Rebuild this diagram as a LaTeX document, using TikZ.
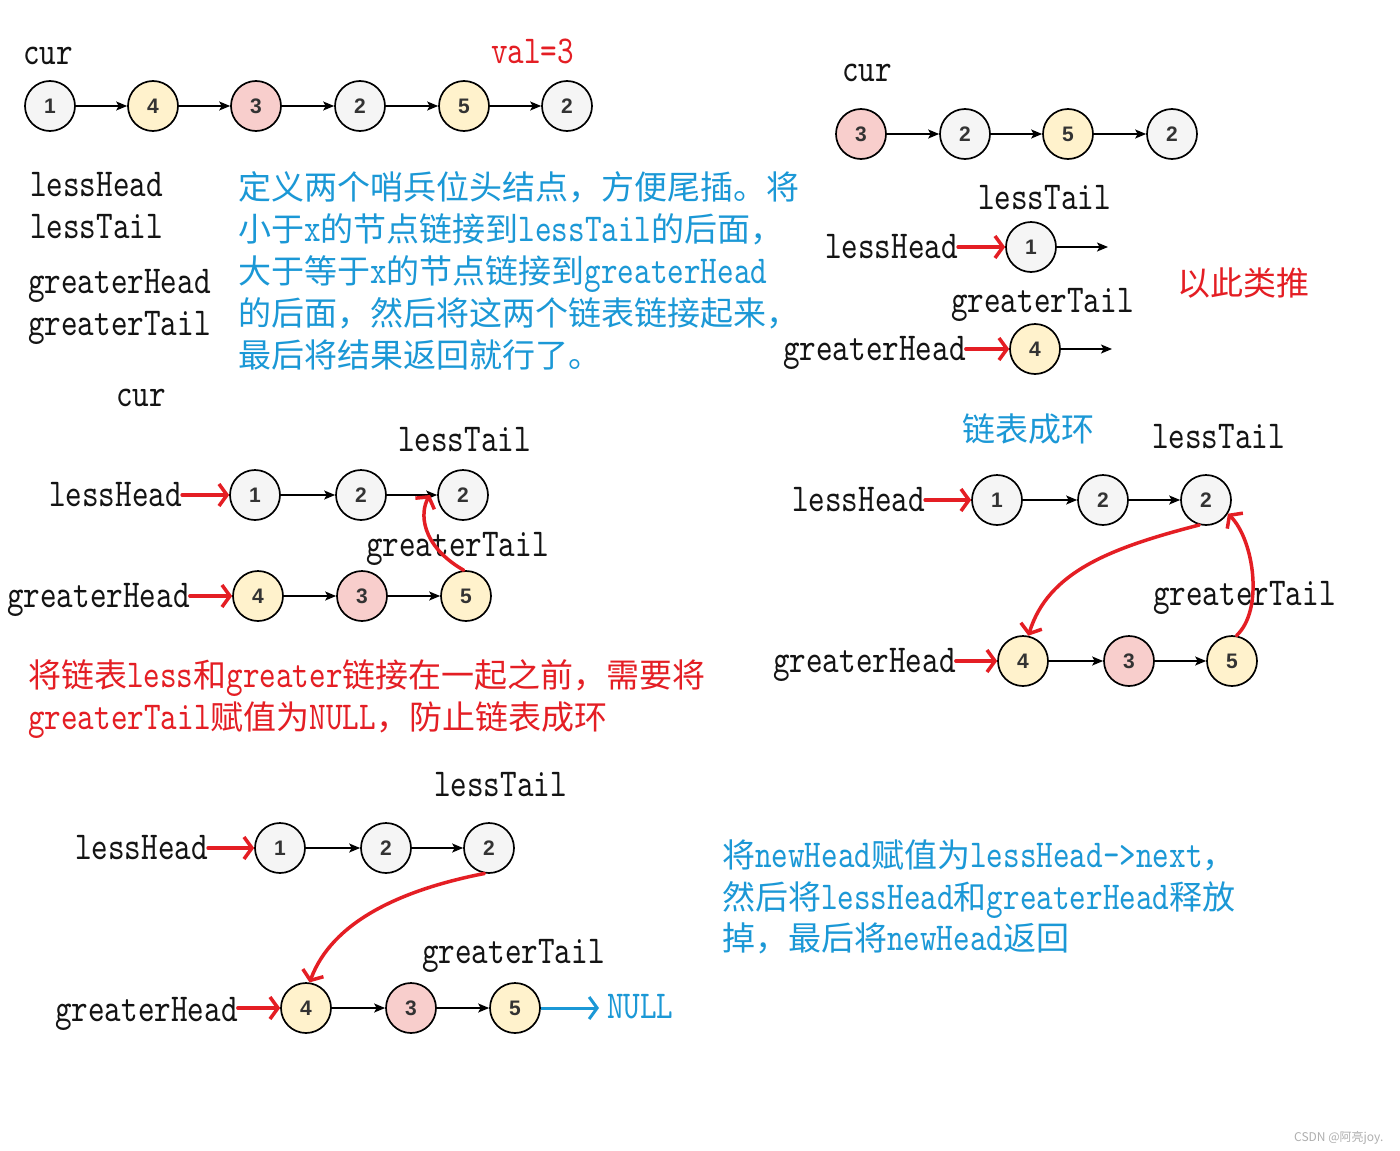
\documentclass[tikz,border=0pt]{standalone}
\usepackage{fontspec}
\usetikzlibrary{arrows.meta}
\newfontfamily\cjk{Noto Sans CJK SC}
\newfontfamily\mono{lmmono10-regular.otf}[FakeStretch=0.8]
\newfontfamily\numfont{Liberation Sans}
\definecolor{ngray}{RGB}{245,245,245}
\definecolor{nyellow}{RGB}{255,242,204}
\definecolor{npink}{RGB}{248,206,204}
\definecolor{myred}{RGB}{228,30,36}
\definecolor{myblue}{RGB}{27,152,214}
\definecolor{numc}{RGB}{51,51,51}
\definecolor{txt}{RGB}{20,20,20}
\newcommand\mt[1]{{\mono\fontsize{39.5}{42}\selectfont #1}}
\tikzset{
  nd/.style={circle, draw=black, line width=1.7pt, minimum size=50pt, inner sep=0pt,
    text=numc, font=\numfont\bfseries\fontsize{21}{21}\selectfont},
  gn/.style={nd, fill=ngray},
  yn/.style={nd, fill=nyellow},
  pn/.style={nd, fill=npink},
  lb/.style={anchor=base west, inner sep=0pt, text=txt, font=\mono\fontsize{39.5}{42}\selectfont},
  cj/.style={anchor=base west, inner sep=0pt, font=\cjk\fontsize{33}{42}\selectfont},
  nx/.style={line width=1.5pt, -{Stealth[length=11pt,width=9pt,inset=2.5pt]}},
  rx/.style={draw=myred, line width=3.5pt, line cap=round, -{Straight Barb[length=8pt,width=22pt]}},
  bx/.style={draw=myblue, line width=3pt, -{Straight Barb[length=8pt,width=22pt]}},
}
\begin{document}
\begin{tikzpicture}[x=1pt,y=-1pt]
\useasboundingbox (0,0) rectangle (1400,1151);
\fill[white] (0,0) rectangle (1400,1151);

% ---------- Panel 1 ----------
\node[lb] (cur1) at (23,64) {cur};
\node[lb, text=myred] (val) at (491,63) {val=3};
\node[gn] (a1) at (50,106) {1};
\node[yn] (a2) at (153,106) {4};
\node[pn] (a3) at (256,106) {3};
\node[gn] (a4) at (360,106) {2};
\node[yn] (a5) at (464,106) {5};
\node[gn] (a6) at (567,106) {2};
\draw[nx] (a1) -- (a2);
\draw[nx] (a2) -- (a3);
\draw[nx] (a3) -- (a4);
\draw[nx] (a4) -- (a5);
\draw[nx] (a5) -- (a6);
\node[lb] (t1) at (30,196) {lessHead};
\node[lb] (t2) at (30,238) {lessTail};
\node[lb] (t3) at (28,293) {greaterHead};
\node[lb] (t4) at (28,335) {greaterTail};
\node[cj, text=myblue] (p1) at (238,199) {定义两个哨兵位头结点，方便尾插。将};
\node[cj, text=myblue] (p2) at (238,241) {小于\mt{x}的节点链接到\mt{lessTail}的后面，};
\node[cj, text=myblue] (p3) at (238,283) {大于等于\mt{x}的节点链接到\mt{greaterHead}};
\node[cj, text=myblue] (p4) at (238,325) {的后面，然后将这两个链表链接起来，};
\node[cj, text=myblue] (p5) at (238,367) {最后将结果返回就行了。};

% ---------- Panel 2 ----------
\node[lb] (cur2) at (842,81) {cur};
\node[pn] (b1) at (861,134) {3};
\node[gn] (b2) at (965,134) {2};
\node[yn] (b3) at (1068,134) {5};
\node[gn] (b4) at (1172,134) {2};
\draw[nx] (b1) -- (b2);
\draw[nx] (b2) -- (b3);
\draw[nx] (b3) -- (b4);
\node[lb] (lt2) at (978,209) {lessTail};
\node[lb] (lh2) at (825,258) {lessHead};
\node[gn] (b5) at (1031,247) {1};
\coordinate (bx1) at (1108,247);
\draw[rx] (lh2.east |- b5.west) -- (b5.west);
\draw[nx] (b5) -- (bx1);
\node[lb] (gt2) at (951,312) {greaterTail};
\node[lb] (gh2) at (783,360) {greaterHead};
\node[yn] (b6) at (1035,349) {4};
\coordinate (bx2) at (1112,349);
\draw[rx] (gh2.east |- b6.west) -- (b6.west);
\draw[nx] (b6) -- (bx2);
\node[cj, text=myred] (etc) at (1177,295) {以此类推};

% ---------- Panel 3 ----------
\node[lb] (cur3) at (116,406) {cur};
\node[lb] (lt3) at (398,451) {lessTail};
\node[lb] (lh3) at (49,506) {lessHead};
\node[gn] (c1) at (255,495) {1};
\node[gn] (c2) at (361,495) {2};
\node[gn] (c3) at (463,495) {2};
\draw[rx] (lh3.east |- c1.west) -- (c1.west);
\draw[nx] (c1) -- (c2);
\draw[nx] (c2) -- (c3);
\node[lb] (gt3) at (366,556) {greaterTail};
\node[lb] (gh3) at (7,607) {greaterHead};
\node[yn] (c4) at (258,596) {4};
\node[pn] (c5) at (362,596) {3};
\node[yn] (c6) at (466,596) {5};
\draw[rx] (gh3.east |- c4.west) -- (c4.west);
\draw[nx] (c4) -- (c5);
\draw[nx] (c5) -- (c6);
\coordinate (c3in) at (430,495);
\draw[rx] (c6.95) .. controls (420,545) and (420,512) .. (c3in);
\node[cj, text=myred] (r1) at (28,687) {将链表\mt{less}和\mt{greater}链接在一起之前，需要将};
\node[cj, text=myred] (r2) at (28,729) {\mt{greaterTail}赋值为\mt{NULL}，防止链表成环};

% ---------- Panel 4 ----------
\node[cj, text=myblue] (ring) at (962,441) {链表成环};
\node[lb] (lt4) at (1152,448) {lessTail};
\node[lb] (lh4) at (792,511) {lessHead};
\node[gn] (d1) at (997,500) {1};
\node[gn] (d2) at (1103,500) {2};
\node[gn] (d3) at (1206,500) {2};
\draw[rx] (lh4.east |- d1.west) -- (d1.west);
\draw[nx] (d1) -- (d2);
\draw[nx] (d2) -- (d3);
\node[lb] (gt4) at (1153,605) {greaterTail};
\node[lb] (gh4) at (773,672) {greaterHead};
\node[yn] (d4) at (1023,661) {4};
\node[pn] (d5) at (1129,661) {3};
\node[yn] (d6) at (1232,661) {5};
\draw[rx] (gh4.east |- d4.west) -- (d4.west);
\draw[nx] (d4) -- (d5);
\draw[nx] (d5) -- (d6);
\draw[rx] (d3.-105) .. controls (1110,548) and (1048,572) .. (d4.78);
\draw[rx] (d6.80) .. controls (1264,610) and (1254,540) .. (d3.-32);

% ---------- Panel 5 ----------
\node[lb] (lt5) at (434,796) {lessTail};
\node[lb] (lh5) at (75,859) {lessHead};
\node[gn] (e1) at (280,848) {1};
\node[gn] (e2) at (386,848) {2};
\node[gn] (e3) at (489,848) {2};
\draw[rx] (lh5.east |- e1.west) -- (e1.west);
\draw[nx] (e1) -- (e2);
\draw[nx] (e2) -- (e3);
\node[lb] (gt5) at (422,963) {greaterTail};
\node[lb] (gh5) at (55,1021) {greaterHead};
\node[yn] (e4) at (306,1008) {4};
\node[pn] (e5) at (411,1008) {3};
\node[yn] (e6) at (515,1008) {5};
\draw[rx] (gh5.east |- e4.west) -- (e4.west);
\draw[nx] (e4) -- (e5);
\draw[nx] (e5) -- (e6);
\draw[rx] (e3.-100) .. controls (400,890) and (332,922) .. (e4.82);
\node[lb, text=myblue] (null) at (607,1018) {NULL};
\draw[bx] (e6.east) -- ([xshift=-8pt]null.west |- e6.east);
\node[cj, text=myblue] (q1) at (722,867) {将\mt{newHead}赋值为\mt{lessHead->next}，};
\node[cj, text=myblue] (q2) at (722,909) {然后将\mt{lessHead}和\mt{greaterHead}释放};
\node[cj, text=myblue] (q3) at (722,950) {掉，最后将\mt{newHead}返回};

\node[anchor=base west, inner sep=0pt, text={rgb,255:red,175;green,175;blue,175},
  font=\cjk\fontsize{12}{12}\selectfont] (wm) at (1294,1141) {CSDN @阿亮joy.};
\end{tikzpicture}
\end{document}
